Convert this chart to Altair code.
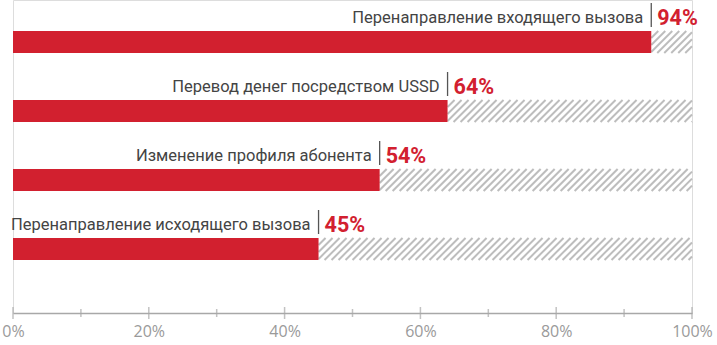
import altair as alt
import pandas as pd

# ---- data ----
categories = [
    "Перенаправление входящего вызова",
    "Перевод денег посредством USSD",
    "Изменение профиля абонента",
    "Перенаправление исходящего вызова",
]
values = [94, 64, 54, 45]
tick_values = [0, 10, 20, 30, 40, 50, 60, 70, 80, 90, 100]
label_values = [0, 20, 40, 60, 80, 100]

# ---- layout constants (pixels) ----
W, H = 679, 313
PAD_L, PAD_R, PAD_T, PAD_B = 13, 25, 0, 32
ROW_PITCH = 69.0
FIRST_CENTER = 42.0
BAR_HALF = 11.0
PX_PER_UNIT = W / 100.0
HATCH_STEP_PX = 7.0
HATCH_RUN_PX = 2 * BAR_HALF

RED = "#d2202f"
TEXT = "#444444"
GRAY = "#a8a8a8"

df = pd.DataFrame({"cat": categories, "val": values, "row": list(range(len(categories)))})
df["pct"] = df["val"].astype(str) + "%"
h = BAR_HALF / ROW_PITCH
df["top"] = df["row"] - h
df["bot"] = df["row"] + h
df["sep_top"] = df["row"] - 39 / ROW_PITCH
df["sep_bot"] = df["row"] - 15 / ROW_PITCH

# hatch lines derived from each row's remaining share
run = HATCH_RUN_PX / PX_PER_UNIT
step = HATCH_STEP_PX / PX_PER_UNIT
hrows = []
for _, r in df.iterrows():
    x0 = r["val"] - run
    while x0 < 100:
        xa, xb = x0, x0 + run
        ya, yb = r["bot"], r["top"]
        if xa < r["val"]:
            t = (r["val"] - xa) / run
            xa = r["val"]
            ya = r["bot"] + t * (r["top"] - r["bot"])
        if xb > 100:
            t = (100 - x0) / run
            xb = 100
            yb = r["bot"] + t * (r["top"] - r["bot"])
        if xb > xa:
            hrows.append({"x": xa, "x2": xb, "y": ya, "y2": yb})
        x0 += step
hatch = pd.DataFrame(hrows)

ticks = pd.DataFrame({"t": tick_values, "major": [v % 20 == 0 for v in tick_values]})

xscale = alt.Scale(domain=[0, 100], nice=False, zero=True)
yscale = alt.Scale(domain=[-FIRST_CENTER / ROW_PITCH, (H - FIRST_CENTER) / ROW_PITCH],
                   reverse=True, nice=False, zero=False)

xaxis = alt.Axis(values=label_values, labelExpr="datum.value + '%'", ticks=False, grid=False,
                 domainColor=GRAY, domainWidth=1.5, labelColor="#9a9a9a", labelFontSize=16,
                 labelFont="Open Sans", labelPadding=10, title=None, labelFlush=False)

hatch_layer = alt.Chart(hatch).mark_rule(color="#bdbdbd", strokeWidth=2).encode(
    x=alt.X("x:Q", scale=xscale, axis=xaxis), x2="x2:Q",
    y=alt.Y("y:Q", scale=yscale, axis=None), y2="y2:Q")

bars = alt.Chart(df).mark_rect(color=RED).encode(
    x=alt.X("zero:Q", scale=xscale), x2="val:Q",
    y=alt.Y("top:Q", scale=yscale), y2="bot:Q").transform_calculate(zero="0")

labels = alt.Chart(df).mark_text(align="right", baseline="alphabetic", dx=-8, dy=-19,
                                 font="Roboto", fontSize=16.5, color=TEXT).encode(
    x=alt.X("val:Q", scale=xscale), y=alt.Y("row:Q", scale=yscale), text="cat:N")

seps = alt.Chart(df).mark_rule(color="#555555", strokeWidth=1.3).encode(
    x=alt.X("val:Q", scale=xscale), y=alt.Y("sep_top:Q", scale=yscale), y2="sep_bot:Q")

pcts = alt.Chart(df).mark_text(align="left", baseline="alphabetic", dx=6, dy=-17,
                               font="Roboto", fontSize=21.5, fontWeight="bold", color=RED).encode(
    x=alt.X("val:Q", scale=xscale), y=alt.Y("row:Q", scale=yscale), text="pct:N")

tick_major = alt.Chart(ticks).transform_filter("datum.major").mark_tick(
    orient="vertical", size=12, thickness=1.5, color=GRAY).encode(
    x=alt.X("t:Q", scale=xscale), y=alt.value(H))
tick_minor = alt.Chart(ticks).transform_filter("!datum.major").mark_tick(
    orient="vertical", size=8, thickness=1.5, color=GRAY).encode(
    x=alt.X("t:Q", scale=xscale), y=alt.value(H))

chart = alt.layer(hatch_layer, bars, labels, seps, pcts, tick_major, tick_minor).properties(
    width=W, height=H,
    autosize=alt.AutoSizeParams(type="none"),
    padding={"left": PAD_L, "right": PAD_R, "top": PAD_T, "bottom": PAD_B},
).configure_view(stroke=None).configure(background="white")

chart.save("out.html", embed_options={"renderer": "svg", "actions": False})
